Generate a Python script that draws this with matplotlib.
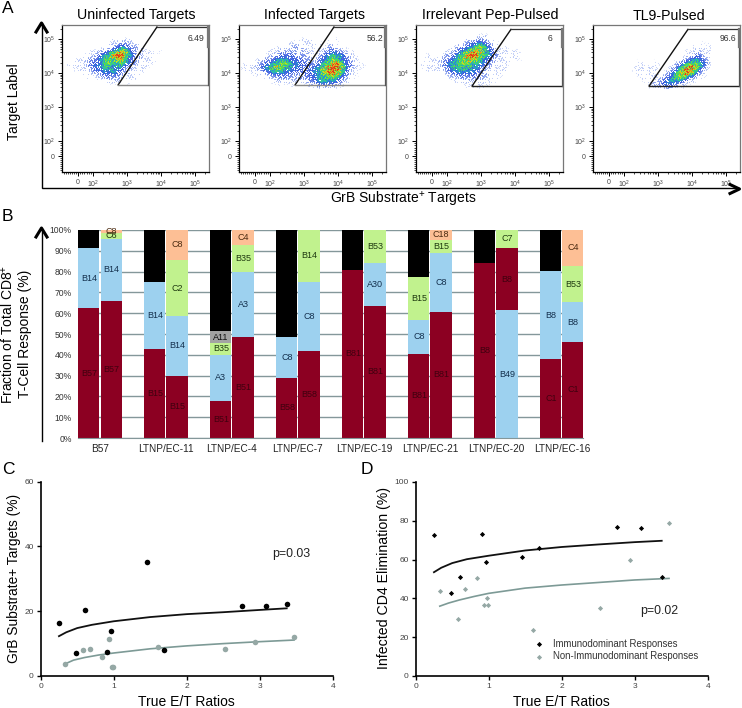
import numpy as np
import matplotlib
matplotlib.use('Agg')
import matplotlib.pyplot as plt
from matplotlib.colors import LinearSegmentedColormap

plt.rcParams['font.family'] = ['Liberation Sans', 'DejaVu Sans']
plt.rcParams['mathtext.default'] = 'regular'

W, H = 742, 708

# panel A: cell density (0-9), 4 px cells from the plot's top edge
dens_uninf = [
    "", "", "",
    "0000000000001111110000000000",
    "0000000000011122211100000000",
    "0000000000112344322110000000",
    "0000001112234567532211101000",
    "0000011123457998542211110010",
    "0001112234566786432211100000",
    "0111112334565565432111110000",
    "0111112344554453221111000000",
    "0001111233445432211110000000",
    "0000011112333322111100000000",
    "0000001011122221111000000000",
    "0000000100011110100000000000",
    "",
]
dens_inf = [
    "", "", "",
    "00000000000001011110001010000000",
    "00000000000011111111101110000000",
    "00000000111112221111112211100000",
    "00000001112222222111123332111000",
    "00000011223333222211234554321100",
    "00001122344443332212345654321100",
    "01111233456654433322456786432110",
    "11112345676554433334568997532111",
    "01111234555443333344678986421100",
    "00011112333332223334567775321100",
    "00000011122222222334555543211000",
    "00000000111111111223444332110000",
    "00000000001001000112222211000000",
]
dens_irr = [
    "", "",
    "0000000000000001110000000000",
    "0000000000001112221100000000",
    "0000000000112334432110000000",
    "0000000011223456653211100000",
    "0000000112345677654211111100",
    "0011011223467998654321111110",
    "0011112234567876543211111100",
    "0111112345566655432211110010",
    "0111112345555544322111100000",
    "0011111234454443221111100000",
    "0000000122333332221111000000",
    "0000000011122222211110000000",
    "0000000001111111111100000000",
    "0000000000001111110000000000",
]
dens_tl9 = [
    "", "", "",
    "0000000000000000000100000",
    "0000000000000000001010100",
    "0000000000000000001111100",
    "0000000000000000111211100",
    "0000000000000000112321100",
    "0000000000000001234432100",
    "0000111011000123456543100",
    "0001111111001235798642100",
    "0001111111012357986421000",
    "0000111111123567864211000",
    "0000011111234565421110000",
    "0000001122344432111000000",
    "0000000112233211100000000",
]
a_titles = ['Uninfected Targets', 'Infected Targets', 'Irrelevant Pep-Pulsed', 'TL9-Pulsed']
a_gate_pct = ['6.49', '56.2', '6', '96.6']
a_gate_low = [3.65, 3.65, 3.62, 3.62]
a_gate_top = [5.35, 5.35, 5.28, 5.28]

# panel B: top of each segment (%), name and colour key, two bars per subject
b_groups = ['B57', 'LTNP/EC-11', 'LTNP/EC-4', 'LTNP/EC-7', 'LTNP/EC-19', 'LTNP/EC-21', 'LTNP/EC-20', 'LTNP/EC-16']
b_tops = [
    [62.3, 91.4, 100], [65.8, 95.8, 98.6, 100],
    [42.7, 74.8, 100], [30, 58.5, 85.6, 100],
    [17.9, 40.1, 45.7, 51.4, 100], [48.4, 79.7, 93, 100],
    [29, 48.4, 100], [41.7, 75, 100],
    [81, 100], [63.6, 84.2, 100],
    [40.6, 56.9, 77.3, 100], [60.7, 89, 95.4, 100],
    [83.9, 100], [61.3, 91.4, 100],
    [38, 80.2, 100], [46.2, 65.3, 82.7, 100],
]
b_names = [
    ['B57', 'B14', ''], ['B57', 'B14', 'C6', 'C8'],
    ['B15', 'B14', ''], ['B15', 'B14', 'C2', 'C8'],
    ['B51', 'A3', 'B35', 'A11', ''], ['B51', 'A3', 'B35', 'C4'],
    ['B58', 'C8', ''], ['B58', 'C8', 'B14'],
    ['B81', ''], ['B81', 'A30', 'B53'],
    ['B81', 'C8', 'B15', ''], ['B81', 'C8', 'B15', 'C18'],
    ['B8', ''], ['B49', 'B8', 'C7'],
    ['C1', 'B8', ''], ['C1', 'B8', 'B53', 'C4'],
]
b_kinds = [
    'rbk', 'rbgp',
    'rbk', 'rbgp',
    'rbgak', 'rbgp',
    'rbk', 'rbg',
    'rk', 'rbg',
    'rbgk', 'rbgp',
    'rk', 'brg',
    'rbk', 'rbgp',
]
b_fill = {'r': '#8c0022', 'b': '#9dd1ef', 'g': '#c1f28e', 'p': '#fdbf95', 'a': '#a3a3a3', 'k': '#000000'}
b_ink = {'r': '#40000f', 'b': '#14304d', 'g': '#1f3a10', 'p': '#4a2a10', 'a': '#111111', 'k': '#000000'}

# panels C, D share E/T ratios
et_dom = [0.256, 0.479, 0.612, 0.909, 0.963, 1.457, 1.685, 2.758, 3.09, 3.374]
et_non = [0.338, 0.58, 0.676, 0.836, 0.936, 0.973, 0.986, 1.6, 2.525, 2.936, 3.466]
grb_dom = [16.3, 7.2, 20.4, 7.5, 14, 35.1, 8.0, 21.5, 21.7, 22.2]
grb_non = [3.7, 8.0, 8.4, 6.0, 11.3, 2.9, 2.9, 9.1, 8.3, 10.5, 11.9]
elim_dom = [72.5, 43, 51.2, 73, 59, 61.3, 66, 77, 76.3, 51]
elim_non = [43.8, 29.2, 44.7, 50.7, 36.4, 40.2, 36.6, 23.5, 34.9, 60, 78.9]

fit_x_dom = [0.25, 0.35, 0.5, 0.7, 1, 1.5, 2, 2.5, 3, 3.37]
fit_x_non = [0.33, 0.45, 0.6, 0.8, 1, 1.5, 2, 2.5, 3, 3.47]
fit_grb_dom = [12.3, 13.5, 14.8, 15.8, 16.9, 18.2, 19.1, 19.7, 20.4, 20.9]
fit_grb_non = [3.7, 4.9, 5.7, 6.5, 7.1, 8.4, 9.3, 10, 10.6, 11.1]
fit_elim_dom = [53.5, 55.8, 58.2, 60.2, 62, 64.7, 66.5, 67.8, 69, 69.7]
fit_elim_non = [36, 37.6, 39.2, 41, 42.6, 45.3, 46.9, 48.2, 49.5, 50.3]


def px_axes(fig, left, top, right, bottom):
    return fig.add_axes([left / W, 1 - bottom / H, (right - left) / W, (bottom - top) / H])


def stipple(rows, ncol):
    # break the cell densities into dots with a fixed quadratic pattern, so it looks like a dot plot
    grid = np.array([[int(c) for c in r.ljust(ncol, '0')] for r in rows], dtype=float)
    fine = np.kron(grid, np.ones((4, 4)))
    box = np.ones(5) / 5
    fine = np.apply_along_axis(lambda v: np.convolve(v, box, mode='same'), 0, fine)
    fine = np.apply_along_axis(lambda v: np.convolve(v, box, mode='same'), 1, fine)
    rr, cc = np.indices(fine.shape)
    thresh = ((rr * rr * 3 + cc * cc * 5 + rr * cc * 7) % 17 + 0.5) / 17
    shade = fine * (0.65 + 0.6 * thresh)
    shade[fine / 4.6 < thresh] = 0
    return shade


fig = plt.figure(figsize=(W / 100, H / 100), dpi=100)

# panel A
dens_cmap = LinearSegmentedColormap.from_list('flow', [
    '#ffffff', '#a8baf4', '#6a84e8', '#3a58e0', '#2a9ad0', '#30d08c',
    '#62e03c', '#d0e020', '#f09320', '#e23a1c'])
A_MIN, A_MAX = 1.09, 5.41
cell = (A_MAX - A_MIN) / 147
a_major = [1.56, 2, 3, 4, 5]
a_labels = ['0', '$10^{2}$', '$10^{3}$', '$10^{4}$', '$10^{5}$']
a_minor = list(np.arange(1.15, 1.95, 0.06))
for d in [2, 3, 4, 5]:
    a_minor += [d + np.log10(k) for k in range(2, 10) if d + np.log10(k) < A_MAX]
a_left = [62, 239, 416, 593]
a_grid_off = [0, 0, 0, 27]
a_dens = [dens_uninf, dens_inf, dens_irr, dens_tl9]
a_pct_x = [142, 144, 134, 143]
a_pct_ha = ['right', 'right', 'center', 'right']
a_title_x = [136, 314, 490, 669]
for i in range(4):
    ax = px_axes(fig, a_left[i], 25, a_left[i] + 147, 172)
    rows = a_dens[i]
    ncol = max(len(r) for r in rows)
    x0 = A_MIN + a_grid_off[i] * cell
    ax.imshow(stipple(rows, ncol), extent=(x0, x0 + 4 * ncol * cell, A_MAX - 4 * len(rows) * cell, A_MAX),
              cmap=dens_cmap, vmin=0, vmax=9, interpolation='bilinear', interpolation_stage='rgba',
              aspect='auto', zorder=1)
    ax.set_xlim(A_MIN, A_MAX)
    ax.set_ylim(A_MIN, A_MAX)
    ax.set_xticks(a_major)
    ax.set_xticklabels(a_labels)
    ax.set_yticks(a_major)
    ax.set_yticklabels(a_labels)
    ax.set_xticks(a_minor, minor=True)
    ax.set_yticks(a_minor, minor=True)
    ax.tick_params(which='major', length=3, width=0.7, labelsize=5, labelcolor='#444444', pad=2)
    ax.tick_params(which='minor', length=1.5, width=0.5)
    for s in ['top', 'right']:
        ax.spines[s].set_color('#777777')
    for s in ax.spines.values():
        s.set_linewidth(0.9)
    low, top = a_gate_low[i], a_gate_top[i]
    ax.plot([2.74, 3.88], [low, top], color='#111111', lw=1.0, zorder=3)
    edge = '#888888' if i < 2 else '#222222'
    ax.plot([3.88, 5.38], [top, top], color='#333333', lw=0.9, zorder=3)
    ax.plot([2.74, 5.38], [low, low], color=edge, lw=1.0, zorder=3)
    ax.plot([5.38, 5.38], [low, top], color='#555555', lw=0.9, zorder=3)
    ax.plot([5.38, 5.38], [4.75, top], color='#777777', lw=1.6, zorder=3)
    ax.text(A_MIN + a_pct_x[i] * cell, 5.0, a_gate_pct[i], fontsize=6.2,
            color='#333333', ha=a_pct_ha[i], va='center', zorder=4)
    fig.text(a_title_x[i] / W, 1 - 19.5 / H, a_titles[i], fontsize=10.2, ha='center', va='baseline')

# panel B
ax = px_axes(fig, 78, 230, 583, 438)
positions = []
for g in range(len(b_groups)):
    positions += [g - 0.168, g + 0.168]
for pos, tops, names, kinds in zip(positions, b_tops, b_names, b_kinds):
    bottom = 0
    for top, name, kind in zip(tops, names, kinds):
        ax.bar(pos, top - bottom, bottom=bottom, width=0.32, color=b_fill[kind], zorder=2, linewidth=0)
        if name:
            ax.text(pos, (top + bottom) / 2, name, fontsize=6.5, color=b_ink[kind],
                    ha='center', va='center', zorder=3)
        bottom = top
ax.set_xlim(-0.333, 7.32)
ax.set_ylim(0, 100)
ax.set_xticks(range(len(b_groups)))
ax.set_xticklabels(b_groups)
ax.set_yticks(range(0, 101, 10))
ax.set_yticklabels(['%d%%' % v for v in range(0, 101, 10)])
ax.grid(axis='y', color='#84979a', lw=1.0, zorder=1)
ax.tick_params(axis='x', length=0, labelsize=7.2, labelcolor='#222222', pad=4)
ax.tick_params(axis='y', length=0, labelsize=6.2, labelcolor='#333333', pad=4.5)
for s in ['top', 'right', 'left']:
    ax.spines[s].set_visible(False)
ax.spines['bottom'].set_color('#84979a')


def scatter_panel(ax, ys_dom, ys_non, fit_dom, fit_non, ymax, yticks, marker, size):
    ax.plot(fit_x_dom, fit_dom, color='#111111', lw=1.3, zorder=2)
    ax.plot(fit_x_non, fit_non, color='#7d9a96', lw=1.2, zorder=2)
    a = ax.scatter(et_dom, ys_dom, s=size, marker=marker, color='#000000', linewidths=0, zorder=3)
    b = ax.scatter(et_non, ys_non, s=size, marker=marker, color='#95a8a5', linewidths=0, zorder=3)
    ax.set_xlim(0, 4)
    ax.set_ylim(0, ymax)
    ax.set_xticks(range(5))
    ax.set_yticks(yticks)
    ax.tick_params(length=3, width=1, labelsize=6, labelcolor='#444444', pad=2)
    for s in ['top', 'right']:
        ax.spines[s].set_visible(False)
    for s in ['left', 'bottom']:
        ax.spines[s].set_linewidth(1.2)
    return a, b


# panel C
ax = px_axes(fig, 40.7, 481.7, 332.7, 676)
scatter_panel(ax, grb_dom, grb_non, fit_grb_dom, fit_grb_non, 60, [0, 20, 40, 60], 'o', 16)
ax.text(3.17, 37.8, 'p=0.03', fontsize=8.9, color='#222222', va='center')

# panel D
ax = px_axes(fig, 415.7, 482, 707.7, 676)
a, b = scatter_panel(ax, elim_dom, elim_non, fit_elim_dom, fit_elim_non, 100, [0, 20, 40, 60, 80, 100], 'D', 7)
ax.text(3.07, 33.5, 'p=0.02', fontsize=8.9, color='#222222', va='center')
ax.legend([a, b], ['Immunodominant Responses', 'Non-Immunodominant Responses'],
          loc='lower left', bbox_to_anchor=(0.388, 0.075), frameon=False, fontsize=6.95,
          labelcolor='#333333', labelspacing=0.3, handletextpad=0.5, borderpad=0, borderaxespad=0)

# axis titles and panel letters
fig.text(14 / W, 1 - 102 / H, 'Target Label', fontsize=10, rotation=90, ha='center', va='center')
fig.text(403 / W, 1 - 203.5 / H, 'GrB Substrate$^{+}$ Targets', fontsize=10, ha='center', va='baseline')
fig.text(16 / W, 1 - 334 / H, 'Fraction of Total CD8$^{+}$\nT-Cell Response (%)', fontsize=10,
         rotation=90, ha='center', va='center', linespacing=1.2)
fig.text(14 / W, 1 - 578 / H, 'GrB Substrate+ Targets (%)', fontsize=9.9, rotation=90, ha='center', va='center')
fig.text(384 / W, 1 - 578 / H, 'Infected CD4 Elimination (%)', fontsize=10.2, rotation=90, ha='center', va='center')
fig.text(186 / W, 1 - 702 / H, 'True E/T Ratios', fontsize=10, ha='center', va='center')
fig.text(561 / W, 1 - 702 / H, 'True E/T Ratios', fontsize=10, ha='center', va='center')
fig.text(2 / W, 1 - 8.5 / H, 'A', fontsize=12.5, va='center')
fig.text(2 / W, 1 - 217 / H, 'B', fontsize=12.5, va='center')
fig.text(2 / W, 1 - 469 / H, 'C', fontsize=12.5, va='center')
fig.text(361 / W, 1 - 469 / H, 'D', fontsize=12.5, va='center')

# big arrows, in pixel coordinates
over = fig.add_axes([0, 0, 1, 1], zorder=10)
over.set_xlim(0, W)
over.set_ylim(H, 0)
over.axis('off')
over.patch.set_alpha(0)
over.plot([41.5, 41.5, 739], [23, 188, 188], color='#000000', lw=1.0, solid_joinstyle='miter')
over.plot([36, 41.5, 47], [32, 23, 32], color='#000000', lw=2.2)
over.plot([730, 739.5, 730], [184.5, 189, 193.5], color='#000000', lw=2.2)
over.plot([41.5, 41.5], [441, 229], color='#000000', lw=1.0)
over.plot([36, 41.5, 47], [237, 228, 237], color='#000000', lw=2.2)

fig.savefig('out.png', dpi=100)
